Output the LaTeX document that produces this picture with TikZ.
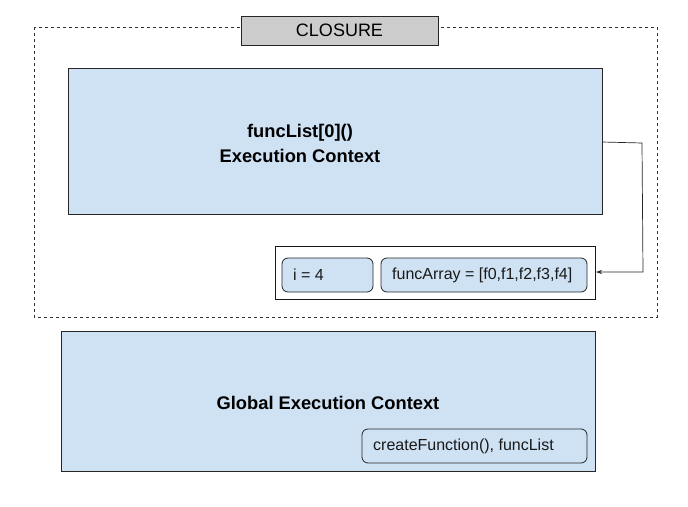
\documentclass[tikz,border=0pt]{standalone}
\usepackage{fontspec}
\setmainfont{Liberation Sans}
\usetikzlibrary{arrows.meta}
\definecolor{ecblue}{HTML}{CFE2F3}
\definecolor{clgray}{HTML}{CCCCCC}
\begin{document}
\begin{tikzpicture}[x=1pt,y=-1pt,
  ecbox/.style={draw=black!85, fill=ecblue, line width=0.8pt},
  varbox/.style={draw=black!85, fill=ecblue, line width=0.8pt, rounded corners=6pt},
  reg/.style={font=\fontsize{16}{19}\selectfont, text=black!90, anchor=west, inner sep=0pt},
  bld/.style={font=\fontsize{18.3}{25}\selectfont\bfseries, text=black, align=center, inner sep=0pt}]
\useasboundingbox (0,0) rectangle (688,506);
% closure dashed region
\draw[dashed, line width=0.7pt, black!80] (34,27) rectangle (657,317);
\node[draw=black!85, fill=clgray, line width=0.8pt, minimum width=197pt, minimum height=29pt, inner sep=0pt,
  font=\fontsize{18}{21}\selectfont] (closure) at (339.5,30.5) {CLOSURE};
% function execution context
\draw[ecbox] (68,68) rectangle (602,214);
\coordinate (fec) at (602,142);
\node[bld] (fectext) at (300,143) {funcList[0]()\\Execution Context};
% variables box
\draw[draw=black!90, fill=white, line width=0.8pt] (275,246) rectangle (595,299);
\coordinate (vars) at (596,272);
\draw[varbox] (282,258) rectangle (373,292);
\node[reg] (ivar) at (293,275) {i = 4};
\draw[varbox] (381,258) rectangle (587,292);
\node[reg] (farr) at (392,275) {funcArray = [f0,f1,f2,f3,f4]};
% arrow
\draw[line width=0.7pt, black!85, -{Stealth[length=6pt,width=4pt]}] (fec) -- (642,143) -- (643,272) -- (vars);
% global execution context
\draw[ecbox] (61,331) rectangle (595,471);
\node[bld] (gec) at (328,403) {Global Execution Context};
\draw[varbox] (362,429) rectangle (587,463);
\node[reg] (cf) at (373,446) {createFunction(), funcList};
\end{tikzpicture}
\end{document}
